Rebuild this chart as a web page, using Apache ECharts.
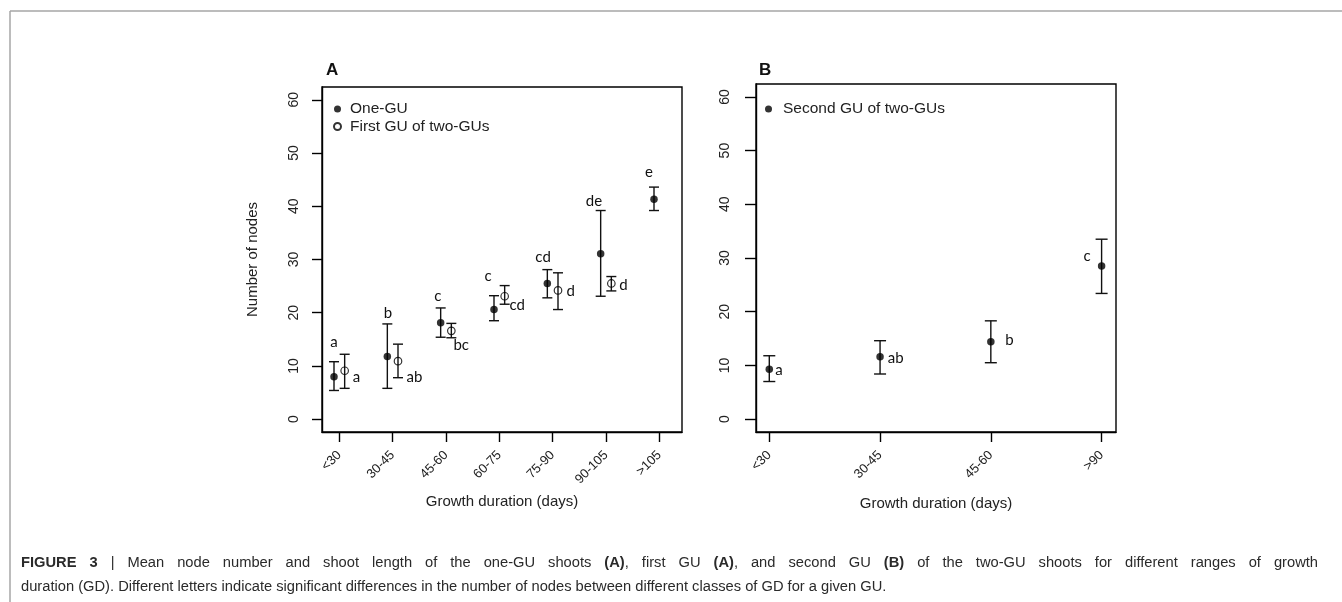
<!DOCTYPE html>
<html>
<head>
<meta charset="utf-8">
<script src="https://cdn.jsdelivr.net/npm/echarts@6/dist/echarts.min.js"></script>
<style>
html,body{margin:0;padding:0;background:#fff;}
#wrap{position:relative;width:1342px;height:602px;overflow:hidden;}
#chart{position:absolute;left:0;top:0;width:1342px;height:602px;}
.cap{position:absolute;left:21px;width:1297px;font-family:'Liberation Sans',Arial,sans-serif;font-size:14.7px;line-height:24px;color:#2a2a2a;white-space:nowrap;}
#cap1{top:550px;text-align:justify;text-align-last:justify;white-space:normal;}
#cap2{top:574px;}
</style>
</head>
<body>
<div id="wrap">
<div id="chart"></div>
<div class="cap" id="cap1"><b>FIGURE 3</b> | Mean node number and shoot length of the one-GU shoots <b>(A)</b>, first GU <b>(A)</b>, and second GU <b>(B)</b> of the two-GU shoots for different ranges of growth</div>
<div class="cap" id="cap2">duration (GD). Different letters indicate significant differences in the number of nodes between different classes of GD for a given GU.</div>
</div>
<script>
// ---------- data ----------
const catsA = ['<30', '30-45', '45-60', '60-75', '75-90', '90-105', '>105'];
const catsB = ['<30', '30-45', '45-60', '>90'];
const yTicks = [0, 10, 20, 30, 40, 50, 60];

const oneMean = [8.0, 11.8, 18.1, 20.6, 25.5, 31.1, 41.3];
const oneLow  = [5.4, 5.8, 15.4, 18.5, 22.8, 23.1, 39.2];
const oneHigh = [10.8, 17.9, 20.9, 23.2, 28.1, 39.2, 43.6];

const firstMean = [9.1, 10.9, 16.6, 23.1, 24.2, 25.5];
const firstLow  = [5.8, 7.8, 15.3, 21.6, 20.6, 24.1];
const firstHigh = [12.2, 14.1, 18.0, 25.1, 27.5, 26.8];

const secondMean = [9.3, 11.6, 14.4, 28.5];
const secondLow  = [7.0, 8.4, 10.5, 23.4];
const secondHigh = [11.8, 14.6, 18.3, 33.5];

// significance letters and their anchors (data units)
const lettersOne = ['a', 'b', 'c', 'c', 'cd', 'de', 'e'];
const lettersOneX = [0.90, 1.91, 2.845, 3.79, 4.82, 5.775, 6.806];
const lettersOneY = [14.5, 19.9, 23.1, 26.8, 30.45, 40.9, 46.4];

const lettersFirst = ['a', 'ab', 'bc', 'cd', 'd', 'd'];
const lettersFirstX = [1.25, 2.26, 3.14, 4.19, 5.26, 6.25];
const lettersFirstY = [7.9, 7.9, 13.9, 21.4, 24.1, 25.1];

const lettersSecond = ['a', 'ab', 'b', 'c'];
const lettersSecondX = [1.054, 2.07, 3.13, 3.87];
const lettersSecondY = [9.2, 11.4, 14.7, 30.4];

// ---------- build ----------
const OFF = 0.1;
const FONT = 'Liberation Sans, Arial, sans-serif';
const LFONT = 'Lato, Open Sans, sans-serif';

function pts(means, offset) { return means.map((m, i) => [i + 1 + offset, m]); }
function bars(lows, highs, offset) { return lows.map((l, i) => [i + 1 + offset, l, highs[i]]); }
function lbl(xs, ys) { return xs.map((x, i) => [x, ys[i]]); }

function errSeries(name, xi, data, half) {
  return {
    type: 'custom', name: name, xAxisIndex: xi, yAxisIndex: xi, data: data, z: 3, silent: true,
    renderItem: function (params, api) {
      const x = api.value(0);
      const lo = api.coord([x, api.value(1)]);
      const hi = api.coord([x, api.value(2)]);
      const st = { stroke: '#111', lineWidth: 1.4 };
      return { type: 'group', children: [
        { type: 'line', shape: { x1: lo[0], y1: lo[1], x2: hi[0], y2: hi[1] }, style: st },
        { type: 'line', shape: { x1: lo[0] - half, y1: lo[1], x2: lo[0] + half, y2: lo[1] }, style: st },
        { type: 'line', shape: { x1: hi[0] - half, y1: hi[1], x2: hi[0] + half, y2: hi[1] }, style: st }
      ]};
    }
  };
}

function letterSeries(xi, data, texts, align) {
  return {
    type: 'custom', xAxisIndex: xi, yAxisIndex: xi, data: data, z: 4, silent: true,
    renderItem: function (params, api) {
      const p = api.coord([api.value(0), api.value(1)]);
      return { type: 'text', x: p[0], y: p[1], style: {
        text: texts[params.dataIndex], align: align, verticalAlign: 'middle',
        font: '15px ' + LFONT, fill: '#111' } };
    }
  };
}

function xAxisCfg(gi, min, max, cats, gap) {
  const vals = cats.map((c, i) => i + 1);
  return {
    type: 'value', gridIndex: gi, min: min, max: max,
    name: 'Growth duration (days)', nameLocation: 'middle', nameGap: gap,
    nameTextStyle: { fontFamily: FONT, fontSize: 15, color: '#222' },
    axisLine: { show: true, onZero: false, lineStyle: { color: '#000', width: 1.4 } },
    axisTick: { show: true, length: 10, customValues: vals, lineStyle: { color: '#000', width: 1.4 } },
    axisLabel: { show: true, customValues: vals, rotate: 45, margin: 21,
      fontFamily: FONT, fontSize: 13, color: '#222',
      formatter: v => cats[Math.round(v) - 1] },
    splitLine: { show: false }
  };
}

function yAxisCfg(gi, withName, margin, tickLen) {
  const a = {
    type: 'value', gridIndex: gi, min: -2.4, max: 62.4,
    axisLine: { show: true, onZero: false, lineStyle: { color: '#000', width: 1.4 } },
    axisTick: { show: true, length: tickLen, customValues: yTicks, lineStyle: { color: '#000', width: 1.4 } },
    axisLabel: { show: true, customValues: yTicks, rotate: 90, margin: margin,
      fontFamily: FONT, fontSize: 14, color: '#222' },
    splitLine: { show: false }
  };
  if (withName) {
    a.name = 'Number of nodes';
    a.nameLocation = 'middle';
    a.nameGap = 62;
    a.nameTextStyle = { fontFamily: FONT, fontSize: 15, color: '#222' };
  }
  return a;
}

const option = {
  backgroundColor: 'transparent',
  animation: false,
  title: [
    { text: 'A', left: 321, top: 57, textStyle: { fontFamily: FONT, fontSize: 17, fontWeight: 'bold', color: '#111' } },
    { text: 'B', left: 754, top: 57, textStyle: { fontFamily: FONT, fontSize: 17, fontWeight: 'bold', color: '#111' } }
  ],
  legend: [
    { data: ['One-GU', 'First GU of two-GUs'], orient: 'vertical', left: 328, top: 96,
      itemWidth: 7, itemHeight: 7, itemGap: 1.5, selectedMode: false,
      textStyle: { fontFamily: FONT, fontSize: 15.5, color: '#222', lineHeight: 15, padding: [0, 0, 0, 4] } },
    { data: ['Second GU of two-GUs'], orient: 'vertical', left: 760, top: 96,
      itemWidth: 7, itemHeight: 7, selectedMode: false,
      textStyle: { fontFamily: FONT, fontSize: 15.5, color: '#222', lineHeight: 15, padding: [0, 0, 0, 6] } }
  ],
  grid: [
    { left: 322, top: 87, width: 360, height: 345, show: true, borderColor: '#000', borderWidth: 1.4, backgroundColor: 'transparent' },
    { left: 756, top: 84, width: 360, height: 348, show: true, borderColor: '#000', borderWidth: 1.4, backgroundColor: 'transparent' }
  ],
  xAxis: [
    xAxisCfg(0, 0.675, 7.425, catsA, 62),
    xAxisCfg(1, 0.88, 4.13, catsB, 64)
  ],
  yAxis: [
    yAxisCfg(0, true, 21, 10),
    yAxisCfg(1, false, 24, 11)
  ],
  series: [
    errSeries('errOne', 0, bars(oneLow, oneHigh, -OFF), 5),
    errSeries('errFirst', 0, bars(firstLow, firstHigh, OFF), 5),
    errSeries('errSecond', 1, bars(secondLow, secondHigh, 0), 6),
    { type: 'scatter', name: 'One-GU', xAxisIndex: 0, yAxisIndex: 0, data: pts(oneMean, -OFF),
      symbol: 'circle', symbolSize: 7.5, itemStyle: { color: '#000' }, z: 5 },
    { type: 'scatter', name: 'First GU of two-GUs', xAxisIndex: 0, yAxisIndex: 0, data: pts(firstMean, OFF),
      symbol: 'circle', symbolSize: 7.5, itemStyle: { color: 'rgba(0,0,0,0)', borderColor: '#000', borderWidth: 1.2 }, z: 5 },
    { type: 'scatter', name: 'Second GU of two-GUs', xAxisIndex: 1, yAxisIndex: 1, data: pts(secondMean, 0),
      symbol: 'circle', symbolSize: 7.5, itemStyle: { color: '#000' }, z: 5 },
    letterSeries(0, lbl(lettersOneX, lettersOneY), lettersOne, 'center'),
    letterSeries(0, lbl(lettersFirstX, lettersFirstY), lettersFirst, 'left'),
    letterSeries(1, lbl(lettersSecondX.slice(0, 3), lettersSecondY.slice(0, 3)), lettersSecond.slice(0, 3), 'left'),
    letterSeries(1, lbl(lettersSecondX.slice(3), lettersSecondY.slice(3)), lettersSecond.slice(3), 'center')
  ],
  graphic: [
    { type: 'line', shape: { x1: 10, y1: 11, x2: 1342, y2: 11 }, style: { stroke: '#a6a6a6', lineWidth: 1.5 } },
    { type: 'line', shape: { x1: 10, y1: 11, x2: 10, y2: 602 }, style: { stroke: '#a6a6a6', lineWidth: 1.5 } }
  ]
};

const chart = echarts.init(document.getElementById('chart'), null, { renderer: 'canvas' });
chart.setOption(option);
</script>
</body>
</html>
